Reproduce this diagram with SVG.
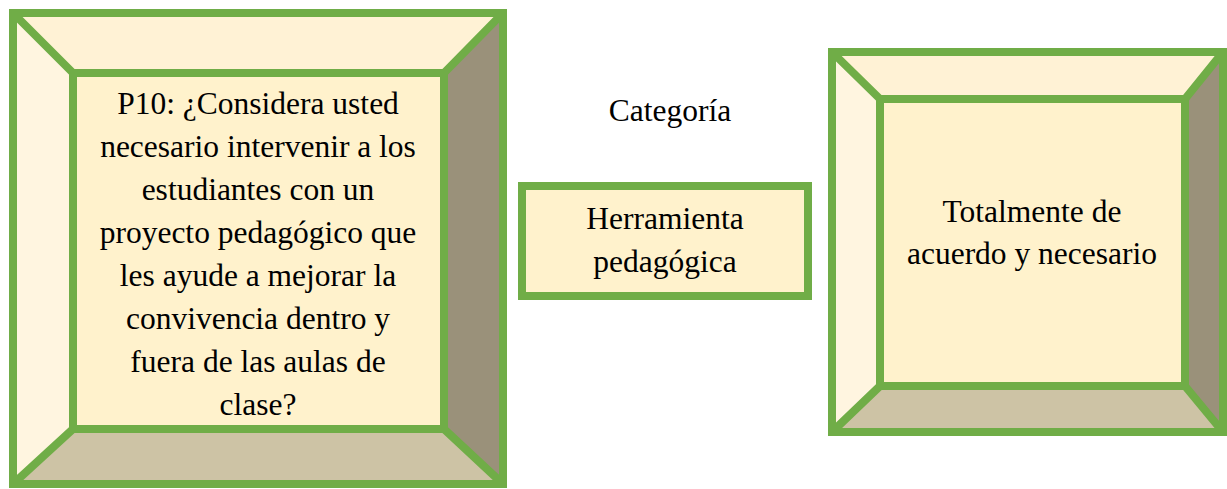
<svg xmlns="http://www.w3.org/2000/svg" width="1227" height="489" viewBox="0 0 1227 489">
<style>
.s{stroke:#70AD47;stroke-width:8;fill:none}
.face{fill:#FFF2CC}
.bl{fill:#FFF5E0}
.bt{fill:#FFF2D5}
.br{fill:#9A917A}
.bb{fill:#CDC3A5}
.t{font-family:"Liberation Serif","Times New Roman",serif;font-size:31.5px;fill:#000;text-anchor:middle}
</style>
<rect width="1227" height="489" fill="#fff"/>
<g id="node-question">
<polygon class="bl" points="13,13 73,73 73,429 13,484"/>
<polygon class="bt" points="13,13 503,13 444,73 73,73"/>
<polygon class="br" points="503,13 503,484 444,429 444,73"/>
<polygon class="bb" points="13,484 73,429 444,429 503,484"/>
<rect class="face" x="73" y="73" width="371" height="356"/>
<path class="s" d="M13,13 L73,73 M503,13 L444,73 M503,484 L444,429 M13,484 L73,429"/>
<rect class="s" x="73" y="73" width="371" height="356"/>
<rect class="s" x="13" y="13" width="490" height="471"/>
<text class="t" x="258" y="114">P10: ¿Considera usted</text>
<text class="t" x="258" y="157">necesario intervenir a los</text>
<text class="t" x="258" y="200">estudiantes con un</text>
<text class="t" x="258" y="243">proyecto pedagógico que</text>
<text class="t" x="258" y="286">les ayude a mejorar la</text>
<text class="t" x="258" y="329">convivencia dentro y</text>
<text class="t" x="258" y="372">fuera de las aulas de</text>
<text class="t" x="258" y="415">clase?</text>
</g>
<g id="label-categoria">
<text class="t" x="670" y="121">Categoría</text>
</g>
<g id="node-category">
<rect class="face" x="522" y="186" width="286" height="110"/>
<rect class="s" x="522" y="186" width="286" height="110"/>
<text class="t" x="665" y="229">Herramienta</text>
<text class="t" x="665" y="272">pedagógica</text>
</g>
<g id="node-answer">
<polygon class="bl" points="832,52 880,99 880,386 832,432"/>
<polygon class="bt" points="832,52 1223,52 1185,99 880,99"/>
<polygon class="br" points="1223,52 1223,432 1185,386 1185,99"/>
<polygon class="bb" points="832,432 880,386 1185,386 1223,432"/>
<rect class="face" x="880" y="99" width="305" height="287"/>
<path class="s" d="M832,52 L880,99 M1223,52 L1185,99 M1223,432 L1185,386 M832,432 L880,386"/>
<rect class="s" x="880" y="99" width="305" height="287"/>
<rect class="s" x="832" y="52" width="391" height="380"/>
<text class="t" x="1032" y="222">Totalmente de</text>
<text class="t" x="1032" y="264">acuerdo y necesario</text>
</g>
<g id="connectors"></g>
</svg>
